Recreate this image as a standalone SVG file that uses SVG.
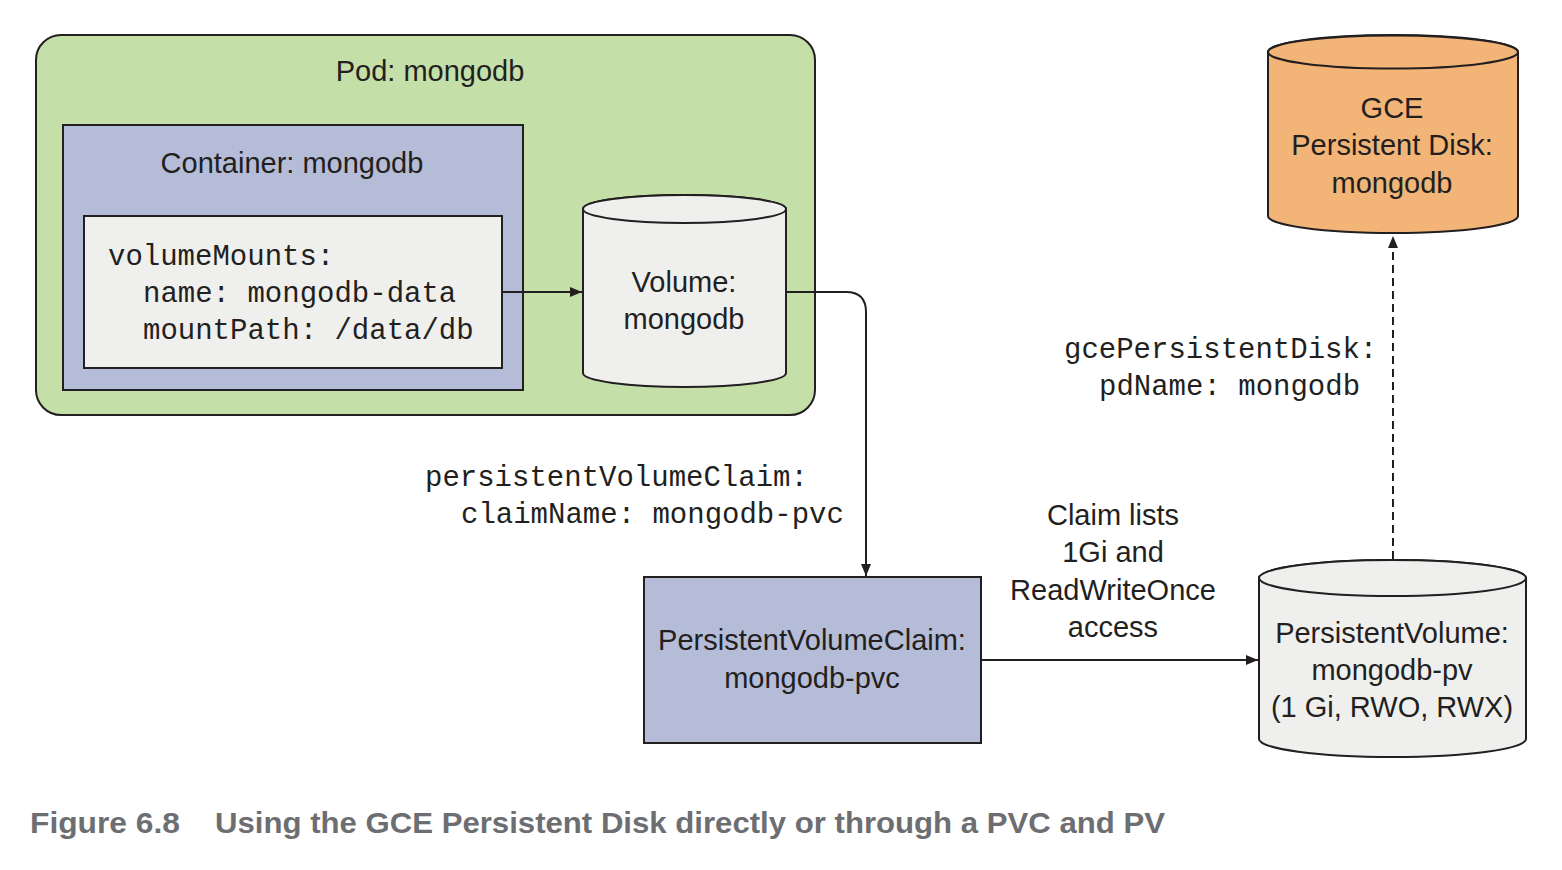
<svg xmlns="http://www.w3.org/2000/svg" width="1562" height="870" viewBox="0 0 1562 870">
<style>
.sans{font-family:"Liberation Sans",Arial,sans-serif;font-size:29px;fill:#231f20;text-anchor:middle}
.mono{font-family:"Liberation Mono","Courier New",monospace;font-size:29px;fill:#231f20}
.box{stroke:#231f20;stroke-width:2}
.conn{fill:none;stroke:#231f20;stroke-width:2}
.cap{font-family:"Liberation Sans",Arial,sans-serif;font-weight:bold;font-size:30px;fill:#6d6e71}
</style>
<defs>
<marker id="arr" viewBox="0 0 12 10" refX="12" refY="5" markerWidth="12" markerHeight="10" orient="auto" markerUnits="userSpaceOnUse">
<path d="M0 0 L12 5 L0 10 Z" fill="#231f20"/>
</marker>
</defs>
<rect width="1562" height="870" fill="#ffffff"/>

<g id="pod">
<rect class="box" x="36" y="35" width="779" height="380" rx="25" fill="#c5dfa9"/>
<text class="sans" x="430" y="81">Pod: mongodb</text>
</g>

<g id="container">
<rect class="box" x="63" y="125" width="460" height="265" fill="#b5bcd8"/>
<text class="sans" x="292" y="173">Container: mongodb</text>
</g>

<g id="volumeMounts">
<rect class="box" x="84" y="216" width="418" height="152" fill="#efefed"/>
<text class="mono" x="108" y="265">volumeMounts:</text>
<text class="mono" x="143" y="302">name: mongodb-data</text>
<text class="mono" x="143" y="339">mountPath: /data/db</text>
</g>

<g id="volume">
<path class="box" d="M583 209 V373 A101.5 14 0 0 0 786 373 V209 A101.5 14 0 0 0 583 209 Z" fill="#efefed"/>
<ellipse class="box" cx="684.5" cy="209" rx="101.5" ry="14" fill="#efefed"/>
<text class="sans" x="684" y="292">Volume:</text>
<text class="sans" x="684" y="329">mongodb</text>
</g>

<g id="pvc">
<rect class="box" x="644" y="577" width="337" height="166" fill="#b5bcd8"/>
<text class="sans" x="812" y="650">PersistentVolumeClaim:</text>
<text class="sans" x="812" y="688">mongodb-pvc</text>
</g>

<g id="pv">
<path class="box" d="M1259 578 V739 A133.5 18 0 0 0 1526 739 V578 A133.5 18 0 0 0 1259 578 Z" fill="#efefed"/>
<ellipse class="box" cx="1392.5" cy="578" rx="133.5" ry="18" fill="#efefed"/>
<text class="sans" x="1392" y="643">PersistentVolume:</text>
<text class="sans" x="1392" y="680">mongodb-pv</text>
<text class="sans" x="1392" y="717">(1 Gi, RWO, RWX)</text>
</g>

<g id="gce">
<path class="box" d="M1268 52 V216 A125 17 0 0 0 1518 216 V52 A125 17 0 0 0 1268 52 Z" fill="#f2b577"/>
<ellipse class="box" cx="1393" cy="52" rx="125" ry="16.5" fill="#f2b577"/>
<text class="sans" x="1392" y="118">GCE</text>
<text class="sans" x="1392" y="155">Persistent Disk:</text>
<text class="sans" x="1392" y="193">mongodb</text>
</g>

<g id="connectors">
<path class="conn" d="M502 292 H582" marker-end="url(#arr)"/>
<path class="conn" d="M786 292 H846 Q866 292 866 312 V576" marker-end="url(#arr)"/>
<path class="conn" d="M981 660 H1258" marker-end="url(#arr)"/>
<path class="conn" d="M1393 559 V236" stroke-dasharray="8 5" marker-end="url(#arr)"/>
<text class="mono" x="425" y="486">persistentVolumeClaim:</text>
<text class="mono" x="461" y="523">claimName: mongodb-pvc</text>
<text class="mono" x="1064" y="358">gcePersistentDisk:</text>
<text class="mono" x="1099" y="395">pdName: mongodb</text>
<text class="sans" x="1113" y="525">Claim lists</text>
<text class="sans" x="1113" y="562">1Gi and</text>
<text class="sans" x="1113" y="600">ReadWriteOnce</text>
<text class="sans" x="1113" y="637">access</text>
</g>

<g id="caption">
<text class="cap" x="30" y="833" textLength="150" lengthAdjust="spacingAndGlyphs">Figure 6.8</text>
<text class="cap" x="215" y="833" textLength="950" lengthAdjust="spacingAndGlyphs">Using the GCE Persistent Disk directly or through a PVC and PV</text>
</g>
</svg>
